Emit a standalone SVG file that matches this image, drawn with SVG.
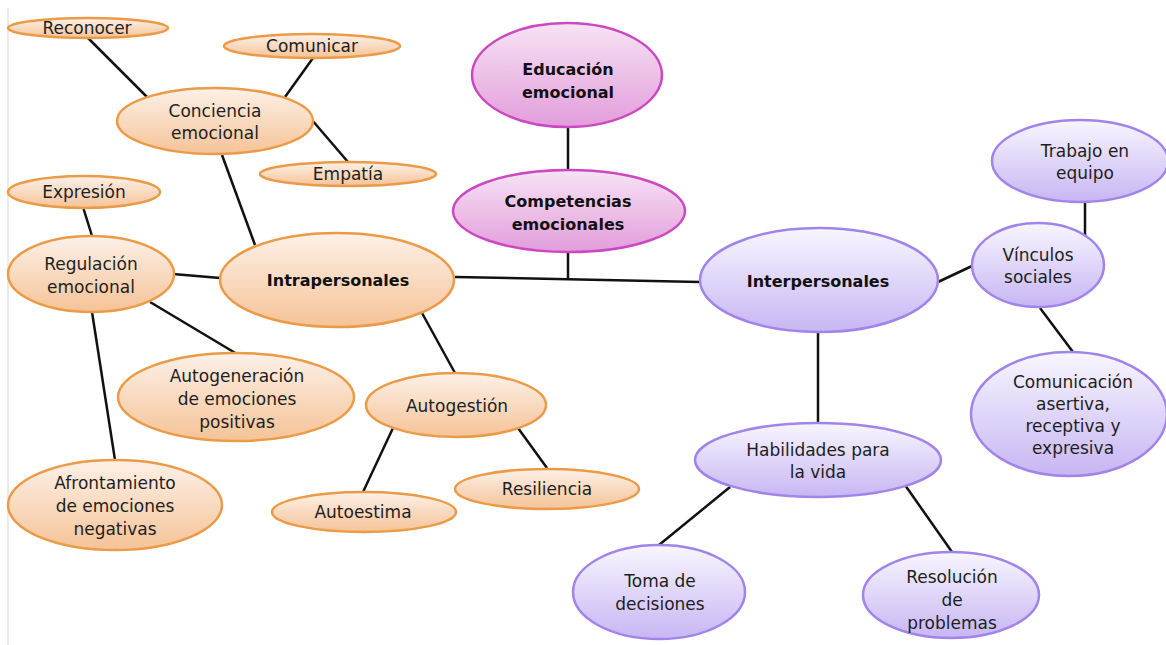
<svg xmlns="http://www.w3.org/2000/svg" width="1166" height="645" viewBox="0 0 1166 645">
<defs>
<linearGradient id="gO" x1="0" y1="0" x2="0" y2="1"><stop offset="0" stop-color="#fdf1e8"/><stop offset="1" stop-color="#f5c397"/></linearGradient>
<linearGradient id="gM" x1="0" y1="0" x2="0" y2="1"><stop offset="0" stop-color="#f7e3f4"/><stop offset="1" stop-color="#e29ddb"/></linearGradient>
<linearGradient id="gP" x1="0" y1="0" x2="0" y2="1"><stop offset="0" stop-color="#f8f6ff"/><stop offset="1" stop-color="#c7b6f3"/></linearGradient>
</defs>
<style>
.o{fill:url(#gO);stroke:#eb9b47;stroke-width:2.5}
.m{fill:url(#gM);stroke:#cc48c2;stroke-width:2.5}
.p{fill:url(#gP);stroke:#a283ea;stroke-width:2.5}
text{font-family:"DejaVu Sans","Open Sans",sans-serif;font-size:17px;fill:#1e1e1e;text-anchor:middle}
.b{font-weight:bold;font-size:16px;fill:#111}
.c line{stroke:#111;stroke-width:2.5}
</style>
<rect width="1166" height="645" fill="#ffffff"/>
<line x1="8" y1="8" x2="8" y2="645" stroke="#e4e4e4" stroke-width="1.5"/>
<g class="c" id="connectors">
<line x1="88" y1="38" x2="147" y2="97"/>
<line x1="313" y1="58" x2="285" y2="97"/>
<line x1="312" y1="120" x2="348" y2="162"/>
<line x1="222" y1="155" x2="255" y2="245"/>
<line x1="83" y1="207" x2="92" y2="236"/>
<line x1="173" y1="274" x2="220" y2="278"/>
<line x1="150" y1="302" x2="237" y2="354"/>
<line x1="92" y1="312" x2="115" y2="460"/>
<line x1="422" y1="313" x2="455" y2="373"/>
<line x1="393" y1="428" x2="363" y2="492"/>
<line x1="518" y1="428" x2="547" y2="468"/>
<line x1="568" y1="127" x2="568" y2="170"/>
<line x1="568" y1="252" x2="568" y2="279"/>
<line x1="455" y1="277" x2="700" y2="282"/>
<line x1="938" y1="282" x2="972" y2="266"/>
<line x1="1085" y1="202" x2="1085" y2="237"/>
<line x1="1040" y1="308" x2="1073" y2="352"/>
<line x1="818" y1="332" x2="818" y2="423"/>
<line x1="730" y1="487" x2="659" y2="545"/>
<line x1="905" y1="485" x2="952" y2="552"/>
</g>
<g id="reconocer"><ellipse class="o" cx="88" cy="28" rx="80" ry="10"/><text x="87" y="34">Reconocer</text></g>
<g id="comunicar"><ellipse class="o" cx="312" cy="46" rx="88" ry="12"/><text x="312" y="52">Comunicar</text></g>
<g id="conciencia"><ellipse class="o" cx="215" cy="121" rx="98" ry="33"/><text x="215" y="117">Conciencia</text><text x="215" y="139">emocional</text></g>
<g id="empatia"><ellipse class="o" cx="348" cy="174" rx="88" ry="12"/><text x="348" y="180">Empatía</text></g>
<g id="expresion"><ellipse class="o" cx="84" cy="192" rx="76" ry="16"/><text x="84" y="198">Expresión</text></g>
<g id="regulacion"><ellipse class="o" cx="91" cy="274" rx="83" ry="38"/><text x="91" y="270">Regulación</text><text x="91" y="293">emocional</text></g>
<g id="intrapersonales"><ellipse class="o" cx="337" cy="280" rx="117" ry="47"/><text class="b" x="338" y="286">Intrapersonales</text></g>
<g id="autogeneracion"><ellipse class="o" cx="236" cy="397" rx="118" ry="44"/><text x="237" y="382">Autogeneración</text><text x="237" y="405">de emociones</text><text x="237" y="428">positivas</text></g>
<g id="afrontamiento"><ellipse class="o" cx="115" cy="505" rx="107" ry="45"/><text x="115" y="489">Afrontamiento</text><text x="115" y="512">de emociones</text><text x="115" y="535">negativas</text></g>
<g id="autogestion"><ellipse class="o" cx="456" cy="405" rx="90" ry="32"/><text x="457" y="412">Autogestión</text></g>
<g id="autoestima"><ellipse class="o" cx="364" cy="512" rx="92" ry="20"/><text x="363" y="518">Autoestima</text></g>
<g id="resiliencia"><ellipse class="o" cx="547" cy="489" rx="92" ry="20"/><text x="547" y="495">Resiliencia</text></g>
<g id="educacion"><ellipse class="m" cx="567" cy="75" rx="95" ry="52"/><text class="b" x="568" y="75">Educación</text><text class="b" x="568" y="98">emocional</text></g>
<g id="competencias"><ellipse class="m" cx="569" cy="211" rx="116" ry="41"/><text class="b" x="568" y="207">Competencias</text><text class="b" x="568" y="230">emocionales</text></g>
<g id="interpersonales"><ellipse class="p" cx="819" cy="280" rx="119" ry="52"/><text class="b" x="818" y="287">Interpersonales</text></g>
<g id="vinculos"><ellipse class="p" cx="1038" cy="265" rx="66" ry="42"/><text x="1038" y="261">Vínculos</text><text x="1038" y="283">sociales</text></g>
<g id="trabajo"><ellipse class="p" cx="1080" cy="161" rx="88" ry="41"/><text x="1085" y="157">Trabajo en</text><text x="1085" y="179">equipo</text></g>
<g id="comunicacion"><ellipse class="p" cx="1069" cy="414" rx="98" ry="62"/><text x="1073" y="388">Comunicación</text><text x="1073" y="410">asertiva,</text><text x="1073" y="432">receptiva y</text><text x="1073" y="454">expresiva</text></g>
<g id="habilidades"><ellipse class="p" cx="818" cy="460" rx="123" ry="37"/><text x="818" y="456">Habilidades para</text><text x="818" y="478">la vida</text></g>
<g id="toma"><ellipse class="p" cx="659" cy="592" rx="86" ry="47"/><text x="660" y="587">Toma de</text><text x="660" y="610">decisiones</text></g>
<g id="resolucion"><ellipse class="p" cx="951" cy="595" rx="88" ry="43"/><text x="952" y="583">Resolución</text><text x="952" y="606">de</text><text x="952" y="629">problemas</text></g>
</svg>
